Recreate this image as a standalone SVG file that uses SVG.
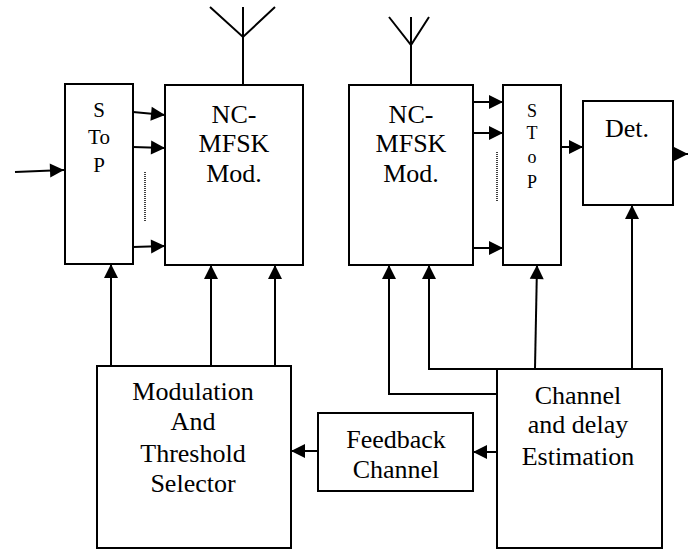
<svg xmlns="http://www.w3.org/2000/svg" width="693" height="550" viewBox="0 0 693 550" font-family="'Liberation Serif', 'DejaVu Serif', serif">
<style>
.box{fill:#fff;stroke:#000;stroke-width:2}
.ln{fill:none;stroke:#000;stroke-width:2}
.ar{fill:none;stroke:#000;stroke-width:2;marker-end:url(#ah)}
.dot{fill:none;stroke:#000;stroke-width:1.5;stroke-dasharray:1 1}
text{font-family:'Liberation Serif','DejaVu Serif',serif;fill:#000;text-anchor:middle}
.big{font-size:26px}
.mid{font-size:21px}
.sm{font-size:18px}
</style>
<defs>
<marker id="ah" markerUnits="userSpaceOnUse" markerWidth="16" markerHeight="15" refX="14" refY="7" orient="auto" overflow="visible">
<path d="M0,0 L14,7 L0,14 Z" fill="#000"/>
</marker>
</defs>
<g id="connectors">
<path class="ar" d="M15,172 L64,170"/>
<path class="ar" d="M133,112 L165,115"/>
<path class="ar" d="M133,147 L165,148"/>
<path class="ar" d="M133,247 L165,246"/>
<path class="dot" d="M145,172 V222"/>
<path class="ar" d="M473,102 H503"/>
<path class="ar" d="M473,133 H503"/>
<path class="ar" d="M473,248 H503"/>
<path class="dot" d="M497,152 V202"/>
<path class="ar" d="M561,147 H583"/>
<path class="ar" d="M673,154 H688"/>
<path class="ar" d="M111,366 V264"/>
<path class="ar" d="M211,366 V265"/>
<path class="ar" d="M275,366 V265"/>
<path class="ar" d="M498,394 H389 V265"/>
<path class="ar" d="M498,369 H429 V265"/>
<path class="ar" d="M535,368 L537,265"/>
<path class="ar" d="M632,368 V205"/>
<path class="ar" d="M497,452 H473"/>
<path class="ar" d="M318,451 H291"/>
</g>
<g id="antenna1"><path class="ln" d="M243,85 V7 M210,7 L243,37 L275,7"/></g>
<g id="antenna2"><path class="ln" d="M411,85 V17 M389,17 L411,45 L429,17"/></g>
<g id="stop1">
<rect class="box" x="65" y="84" width="68" height="180"/>
<text class="mid" x="99" y="117">S</text>
<text class="mid" x="99" y="144">To</text>
<text class="mid" x="99" y="172">P</text>
</g>
<g id="mod1">
<rect class="box" x="165" y="85" width="138" height="180"/>
<text class="big" x="234" y="123">NC-</text>
<text class="big" x="234" y="152">MFSK</text>
<text class="big" x="234" y="182">Mod.</text>
</g>
<g id="mod2">
<rect class="box" x="349" y="85" width="124" height="180"/>
<text class="big" x="411" y="123">NC-</text>
<text class="big" x="411" y="152">MFSK</text>
<text class="big" x="411" y="182">Mod.</text>
</g>
<g id="stop2">
<rect class="box" x="503" y="85" width="58" height="180"/>
<text class="sm" x="532" y="117">S</text>
<text class="sm" x="532" y="139">T</text>
<text class="sm" x="532" y="163">o</text>
<text class="sm" x="532" y="188">P</text>
</g>
<g id="det">
<rect class="box" x="583" y="101" width="90" height="104"/>
<text class="big" x="627" y="137">Det.</text>
</g>
<g id="modsel">
<rect class="box" x="97" y="366" width="194" height="182"/>
<text class="big" x="193" y="400">Modulation</text>
<text class="big" x="193" y="430">And</text>
<text class="big" x="193" y="462">Threshold</text>
<text class="big" x="193" y="492">Selector</text>
</g>
<g id="feedback">
<rect class="box" x="318" y="413" width="155" height="78"/>
<text class="big" x="396" y="448">Feedback</text>
<text class="big" x="396" y="478">Channel</text>
</g>
<g id="chest">
<rect class="box" x="497" y="369" width="165" height="179"/>
<text class="big" x="578" y="404">Channel</text>
<text class="big" x="578" y="433">and delay</text>
<text class="big" x="578" y="465">Estimation</text>
</g>
</svg>
